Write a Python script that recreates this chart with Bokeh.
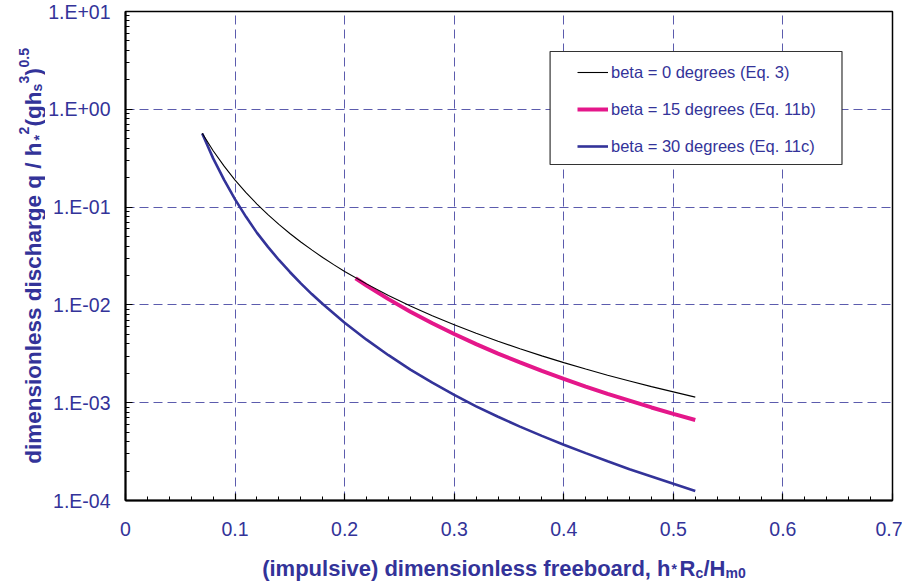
import math
from bokeh.plotting import figure
from bokeh.layouts import column, row
from bokeh.models import (FixedTicker, CustomJSTickFormatter, Legend, LegendItem,
                          Label, BoxAnnotation)
from bokeh.embed import file_html
from bokeh.resources import INLINE

# ---------------- data ----------------
x_beta0 = [0.07, 0.08, 0.09, 0.10, 0.11, 0.12, 0.13, 0.14, 0.15, 0.16, 0.17, 0.18, 0.19,
           0.20, 0.22, 0.24, 0.26, 0.28, 0.30, 0.32, 0.34, 0.36, 0.38, 0.40, 0.42,
           0.44, 0.46, 0.48, 0.50, 0.52]
q_beta0 = [0.570, 0.377, 0.262, 0.189, 0.1405, 0.1073, 0.0837, 0.0665, 0.0537, 0.0440,
           0.0365, 0.0305, 0.0258, 0.0220, 0.0164, 0.0125, 0.00976, 0.00776, 0.00627,
           0.00513, 0.00425, 0.00356, 0.00301, 0.00257, 0.00221, 0.00191, 0.00167,
           0.00146, 0.00129, 0.00114]

x_beta15 = [0.21, 0.22, 0.24, 0.26, 0.28, 0.30, 0.32, 0.34, 0.36, 0.38, 0.40, 0.42,
            0.44, 0.46, 0.48, 0.50, 0.52]
q_beta15 = [0.01873, 0.01578, 0.01146, 0.00853, 0.00650, 0.00504, 0.00397, 0.00318,
            0.00258, 0.00211, 0.00175, 0.00146, 0.00123, 0.00105, 0.000894, 0.000769,
            0.000666]

x_beta30 = [0.07, 0.08, 0.09, 0.10, 0.11, 0.12, 0.13, 0.14, 0.15, 0.16, 0.17, 0.18,
            0.20, 0.22, 0.24, 0.26, 0.28, 0.30, 0.32, 0.34, 0.36, 0.38, 0.40, 0.42,
            0.44, 0.46, 0.48, 0.50, 0.52]
q_beta30 = [0.565, 0.315, 0.19, 0.120, 0.0795, 0.0545, 0.0392, 0.0288, 0.0217, 0.0166,
            0.0129, 0.0102, 0.00658, 0.00441, 0.00306, 0.00218, 0.00160, 0.00120,
            0.000918, 0.000718, 0.000570, 0.000458, 0.000372, 0.000305, 0.000252,
            0.000209, 0.000176, 0.000148, 0.000125]

series_labels = ["beta = 0 degrees (Eq. 3)",
                 "beta = 15 degrees (Eq. 11b)",
                 "beta = 30 degrees (Eq. 11c)"]

x_ticks = [0.0, 0.1, 0.2, 0.3, 0.4, 0.5, 0.6, 0.7]
x_tick_labels = ["0", "0.1", "0.2", "0.3", "0.4", "0.5", "0.6", "0.7"]
x_minor_ticks = [round(0.02 * i, 2) for i in range(36)]

y_ticks = [1e-4, 1e-3, 1e-2, 1e-1, 1e0, 1e1]
y_tick_labels = ["1.E-04", "1.E-03", "1.E-02", "1.E-01", "1.E+00", "1.E+01"]
y_minor_ticks = [m * 10.0 ** e for e in range(-4, 1) for m in range(2, 10)]

# ---------------- styling ----------------
NAVY = "#333399"
PINK = "#E4178A"
FONT = "Liberation Sans"
W, H = 902, 581
YT_W = 45          # strip holding the y title
XT_H = 40          # strip holding the x title
MAIN_H = H - XT_H

# ---------------- main figure ----------------
p = figure(width=W - YT_W, height=MAIN_H, x_range=(0, 0.7), y_range=(1e-4, 10),
           y_axis_type="log", output_backend="svg", toolbar_location=None,
           min_border_left=123 - YT_W, min_border_right=10, min_border_top=11,
           min_border_bottom=MAIN_H - 500, background_fill_color="white",
           border_fill_color="white")
p.outline_line_color = "black"
p.outline_line_width = 1.5

xt = FixedTicker(ticks=x_ticks, minor_ticks=x_minor_ticks)
yt = FixedTicker(ticks=y_ticks, minor_ticks=y_minor_ticks)
p.xaxis.ticker = xt
p.yaxis.ticker = yt
p.xgrid.ticker = xt
p.ygrid.ticker = yt

p.xaxis.formatter = CustomJSTickFormatter(args=dict(tvals=x_ticks, tlabels=x_tick_labels), code="""
let best = 0, d = Infinity;
for (let i = 0; i < tvals.length; i++) {
  const dd = Math.abs(tvals[i] - tick);
  if (dd < d) { d = dd; best = i; }
}
return tlabels[best];
""")
p.yaxis.formatter = CustomJSTickFormatter(args=dict(tvals=y_ticks, tlabels=y_tick_labels), code="""
let best = 0, d = Infinity;
for (let i = 0; i < tvals.length; i++) {
  const dd = Math.abs(Math.log10(tvals[i]) - Math.log10(tick));
  if (dd < d) { d = dd; best = i; }
}
return tlabels[best];
""")

for ax in (p.xaxis[0], p.yaxis[0]):
    ax.axis_line_color = "black"
    ax.axis_line_width = 2
    ax.major_tick_in = 7
    ax.major_tick_out = 0
    ax.minor_tick_in = 4
    ax.minor_tick_out = 0
    ax.major_tick_line_color = "black"
    ax.minor_tick_line_color = "black"
    ax.major_tick_line_width = 1.2
    ax.minor_tick_line_width = 1
    ax.major_label_text_font = FONT
    ax.major_label_text_font_size = "19.5px"
    ax.major_label_text_color = NAVY
p.xaxis.major_label_standoff = 21
p.yaxis.major_label_standoff = 15

p.grid.grid_line_color = NAVY
p.grid.grid_line_alpha = 0.8
p.grid.grid_line_width = 1
p.grid.grid_line_dash = "9 5"

# ---------------- curves ----------------
r30 = p.line(x_beta30, q_beta30, line_color=NAVY, line_width=2.6)
r15 = p.line(x_beta15, q_beta15, line_color=PINK, line_width=4)
r0 = p.line(x_beta0, q_beta0, line_color="black", line_width=1.1)

# ---------------- legend ----------------
box = BoxAnnotation(left=0.3875, right=0.6539, top=3.90, bottom=0.2726,
                    fill_color="white", fill_alpha=1.0,
                    line_color="#333333", line_width=1.2, line_alpha=1.0)
p.add_layout(box)

legend = Legend(items=[LegendItem(label=series_labels[0], renderers=[r0]),
                       LegendItem(label=series_labels[1], renderers=[r15]),
                       LegendItem(label=series_labels[2], renderers=[r30])],
                location=(452, 344), padding=0, margin=0, spacing=17,
                glyph_width=31, glyph_height=20, label_height=20, label_standoff=3,
                border_line_color=None, background_fill_alpha=0.0,
                label_text_font=FONT, label_text_font_size="16.5px",
                label_text_color=NAVY)
p.add_layout(legend)


# ---------------- title strips (own small figures so text is not clipped) ----------------
def strip(w, h):
    f = figure(width=w, height=h, x_range=(0, 1), y_range=(0, 1),
               output_backend="svg", toolbar_location=None, min_border=0,
               x_axis_location=None, y_axis_location=None,
               background_fill_color="white", border_fill_color="white")
    f.outline_line_color = None
    f.grid.visible = False
    return f


def lab(f, text, x, y, size, align="left", angle=0.0):
    f.add_layout(Label(x=x, y=y, x_units="canvas", y_units="canvas",
                       text=text, text_font=FONT, text_font_size=f"{size}px",
                       text_font_style="bold", text_color=NAVY,
                       text_align=align, text_baseline="alphabetic", angle=angle))


yfig = strip(YT_W, MAIN_H)
A = math.pi / 2
lab(yfig, "dimensionless discharge q / h", 33, 142, 22.5, align="right", angle=A)
lab(yfig, "*", 38, 140, 14, angle=A)
lab(yfig, "2", 23, 134, 14, angle=A)
lab(yfig, "(gh", 33, 126, 22.5, angle=A)
lab(yfig, "s", 36, 91, 14, angle=A)
lab(yfig, "3", 23, 83, 14, angle=A)
lab(yfig, ")", 33, 75, 22.5, angle=A)
lab(yfig, "0.5", 23, 67, 14, angle=A)

xfig = strip(W, XT_H)
oy = MAIN_H
lab(xfig, "(impulsive) dimensionless freeboard, h", 670, 568 - oy, 22, align="right")
lab(xfig, "*", 671, 568 - oy, 14)
lab(xfig, "R", 679, 568 - oy, 22)
lab(xfig, "c", 695, 572 - oy, 14)
lab(xfig, "/H", 703, 568 - oy, 22)
lab(xfig, "m0", 725, 572 - oy, 14)

layout = column(row(yfig, p, spacing=0), xfig, spacing=0)
open("out.html", "w").write(file_html(layout, INLINE))
